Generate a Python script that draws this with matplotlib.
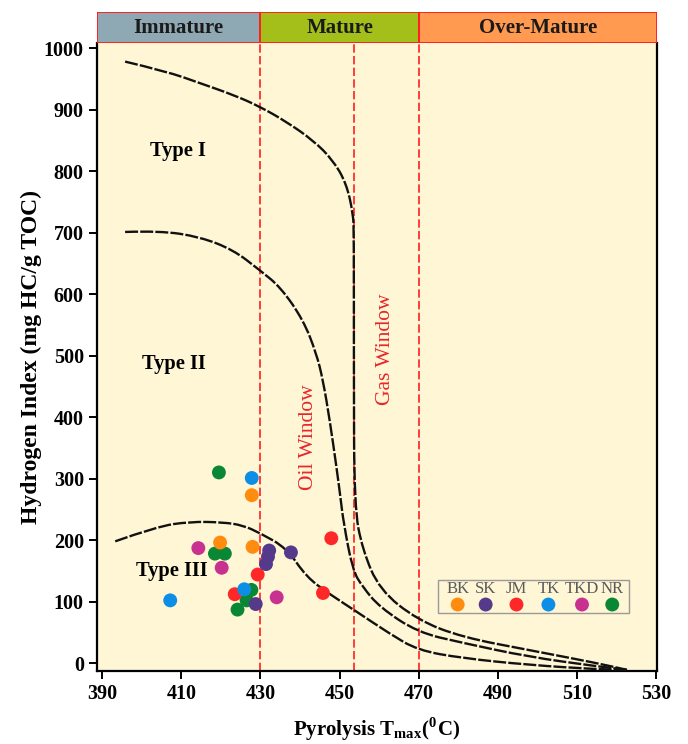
"""
HI vs Tmax kerogen-type diagram (pseudo Van Krevelen) with maturity header
"""
import matplotlib
matplotlib.use("Agg")
import matplotlib.pyplot as plt
from matplotlib.patches import Rectangle, PathPatch
from matplotlib.path import Path

matplotlib.rcParams.update({
    "font.family": ["Liberation Serif", "DejaVu Serif"],
    "font.weight": "bold",
    "mathtext.fontset": "stix",
    "axes.linewidth": 1.6,
})

# --- data -------------------------------------------------------------
wells = ["BK", "SK", "JM", "TK", "TKD", "NR"]
well_colors = ["#FF8C0F", "#553A8C", "#FF2828", "#0D8EE6", "#C8318F", "#0A8735"]

bk_tmax = [427.8, 419.8, 428.0]
bk_hi = [273, 196, 189]
sk_tmax = [432.2, 431.9, 431.4, 437.7, 428.8]
sk_hi = [183, 173, 161, 180, 96]
jm_tmax = [447.9, 429.3, 423.5, 445.8]
jm_hi = [203, 144, 112, 114]
tk_tmax = [427.8, 425.9, 407.2]
tk_hi = [301, 120, 102]
tkd_tmax = [414.3, 420.2, 434.1]
tkd_hi = [187, 155, 107]
nr_tmax = [419.5, 418.5, 421.0, 427.7, 426.5, 424.2]
nr_hi = [310, 178, 178, 119, 102, 87]

# kerogen type boundary curves (Tmax, HI)
type1_t = [395.8, 406.3, 414.7, 423.1, 429.8, 436.6, 443.3, 448.3, 451.7, 453.4,
           453.6, 453.6, 453.7, 455.8, 460.1, 469.7, 481.0, 498.0, 515.0, 522.6]
type1_hi = [978, 962, 943, 924, 905, 880, 850, 818, 780, 731,
            700, 480, 254, 184, 119, 70, 42, 21, 0, -11]
type2_t = [395.8, 404.6, 414.7, 423.1, 429.8, 435.1, 440.8, 444.1, 445.8, 447.5,
           449.2, 450.2, 451.0, 453.3, 455.8, 460.1, 469.7, 481.0, 497.9, 514.8, 522.6]
type2_hi = [701, 703, 693, 672, 639, 611, 558, 504, 460, 395,
            319, 270, 228, 151, 124, 91, 50, 33, 10, -5, -11]
type3_t = [393.3, 403.8, 412.2, 420.5, 425.6, 430.0, 436.6, 441.6, 447.5, 454.2,
           462.6, 469.7, 481.0, 497.9, 514.8, 522.6]
type3_hi = [198, 222, 230, 229, 224, 211, 187, 140, 112, 84,
            48, 21, 8, -3, -10, -11]

zones = ["Immature", "Mature", "Over-Mature"]
zone_edges = [388.7, 430, 470, 530.2]
zone_colors = ["#8FA9B4", "#A4BF1A", "#FF9A50"]
window_lines = [430, 453.6, 470]

x_ticks = [390, 410, 430, 450, 470, 490, 510, 530]
y_ticks = [0, 100, 200, 300, 400, 500, 600, 700, 800, 900, 1000]


def smooth_path(xs, ys):
    """Quadratic Bezier through midpoints -> smooth rendering of a polyline."""
    pts = list(zip(xs, ys))
    verts = [pts[0]]
    codes = [Path.MOVETO]
    for i in range(1, len(pts) - 1):
        mid = ((pts[i][0] + pts[i + 1][0]) / 2, (pts[i][1] + pts[i + 1][1]) / 2)
        verts += [pts[i], mid]
        codes += [Path.CURVE3, Path.CURVE3]
    verts.append(pts[-1])
    codes.append(Path.LINETO)
    return Path(verts, codes)


# --- figure -----------------------------------------------------------
fig = plt.figure(figsize=(6.88, 7.44), dpi=100)
ax = fig.add_axes([0.141, 0.098, 0.814, 0.844])
hax = fig.add_axes([0.141, 0.942, 0.814, 0.042], sharex=ax)

ax.set_facecolor("#FEF6D4")
ax.set_xlim(zone_edges[0], zone_edges[-1])
ax.set_ylim(-13, 1008)

# maturity header
for name, x0, x1, c in zip(zones, zone_edges[:-1], zone_edges[1:], zone_colors):
    hax.add_patch(Rectangle((x0, 0), x1 - x0, 1, facecolor=c,
                            edgecolor="#FF2020", linewidth=1.4))
    hax.text((x0 + x1) / 2, 0.47, name, ha="center", va="center",
             fontsize=15, fontweight="bold", color="#1A1A1A")
hax.set_ylim(0, 1)
hax.axis("off")

# oil / gas window lines
for xv in window_lines:
    ax.plot([xv, xv], [-13, 1008], color="#FF2020", linewidth=1.2,
            dashes=(5, 2), zorder=2)

# kerogen type curves
for tx, hy in [(type1_t, type1_hi), (type2_t, type2_hi), (type3_t, type3_hi)]:
    ax.add_patch(PathPatch(smooth_path(tx, hy), facecolor="none",
                           edgecolor="#111111", linewidth=1.7,
                           linestyle=(0, (5.5, 0.9)), zorder=3))

# samples
series = {
    "NR": (nr_tmax, nr_hi), "JM": (jm_tmax, jm_hi), "TKD": (tkd_tmax, tkd_hi),
    "BK": (bk_tmax, bk_hi), "SK": (sk_tmax, sk_hi), "TK": (tk_tmax, tk_hi),
}
col = dict(zip(wells, well_colors))
for name, (tx, hy) in series.items():
    ax.scatter(tx, hy, s=100, color=col[name], edgecolors="none", zorder=5)

# annotations
ax.text(409.2, 832, "Type I", ha="center", va="center", fontsize=14.8)
ax.text(408.0, 486, "Type II", ha="center", va="center", fontsize=14.8)
ax.text(407.6, 150, "Type III", ha="center", va="center", fontsize=14.8)
ax.text(442.2, 367, "Oil Window", ha="center", va="center", rotation=90,
        fontsize=15.5, color="#E8262A", fontweight="normal")
ax.text(461.6, 510, "Gas Window", ha="center", va="center", rotation=90,
        fontsize=15.5, color="#E8262A", fontweight="normal")

# legend: labels above markers, in a gray box
ax.add_patch(Rectangle((0.609, 0.093), 0.341, 0.052, transform=ax.transAxes,
                       facecolor="none", edgecolor="#9A9A9A", linewidth=1.0,
                       zorder=6))
leg_x = [0.644, 0.694, 0.749, 0.806, 0.866, 0.920]
for lx, name, c in zip(leg_x, wells, well_colors):
    ax.text(lx, 0.131, name, transform=ax.transAxes, ha="center", va="center",
            fontsize=12, fontweight="normal", color="#5A5A5A", zorder=7)
    ax.scatter([lx], [0.106], s=100, color=c, transform=ax.transAxes,
               edgecolors="none", zorder=7, clip_on=False)

# axes styling
ax.set_xticks(x_ticks)
ax.set_yticks(y_ticks)
ax.tick_params(axis="both", direction="out", length=6, width=1.4,
               labelsize=14.5, colors="black")
for lab in ax.get_xticklabels() + ax.get_yticklabels():
    lab.set_fontweight("bold")
ax.spines["top"].set_visible(False)
for s in ["left", "bottom", "right"]:
    ax.spines[s].set_color("black")

ax.set_ylabel("Hydrogen Index (mg HC/g TOC)", fontsize=17,
              fontweight="bold", labelpad=1)
ax.set_xlabel(r"Pyrolysis T$_\mathregular{max}$($^\mathregular{0}$C)",
              fontsize=15, fontweight="bold", labelpad=8)

fig.savefig("out.png", dpi=100, facecolor="white")
